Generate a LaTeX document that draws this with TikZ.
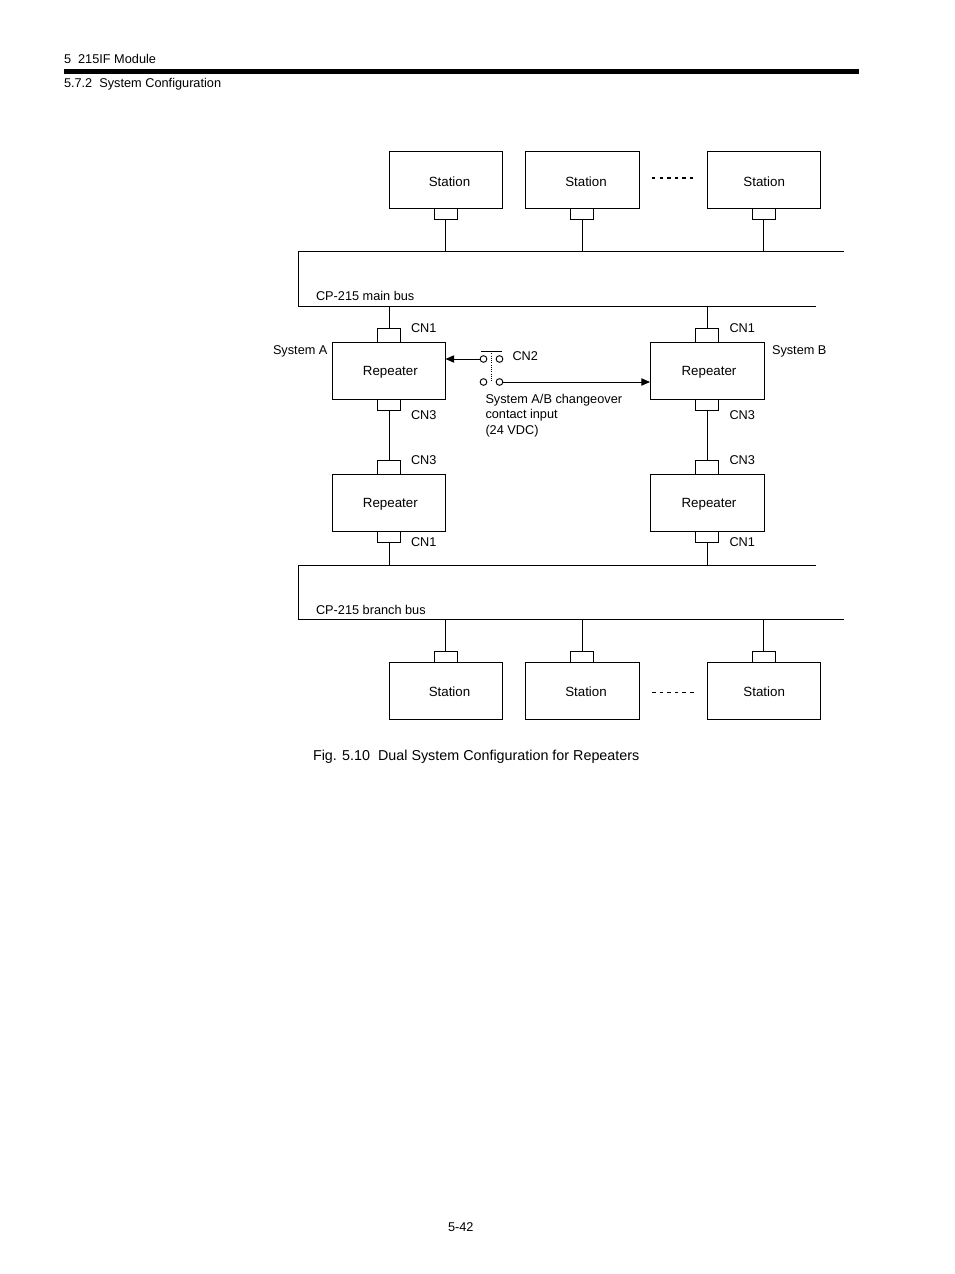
\documentclass[tikz,border=0pt]{standalone}
\usepackage{fontspec}
\setmainfont{Liberation Sans}
\usepackage{tikz}
\usetikzlibrary{positioning,arrows.meta}

\tikzset{
  boxnode/.style={draw, inner sep=0pt, outer sep=0pt, minimum width=84.75pt, minimum height=42.75pt, text height=9.8pt, text depth=0pt},
  lownode/.style={boxnode, text height=8.6pt},
  repnode/.style={boxnode, text height=7pt},
  tabnode/.style={draw, inner sep=0pt, outer sep=0pt, minimum width=17.25pt, minimum height=#1},
  txt/.style={inner sep=0pt, outer sep=0pt, anchor=base west, font=\fontsize{9.55}{11.6}\selectfont},
  contact/.style={draw, circle, inner sep=0pt, outer sep=0pt, minimum size=5pt},
  arrowline/.style={-{Triangle[length=6.5pt,width=5.5pt]}}
}

\begin{document}
\begin{tikzpicture}[x=.75pt, y=-.75pt, line width=.7pt]
          \useasboundingbox (0,0) rectangle (954,1274);

          % page header
          \node[txt] (h1) at (64,63) {5\ \ 215IF Module};
          \node[txt] (h2) at (64,87) {5.7.2\ \ System Configuration};
          \coordinate (ha) at (64,71.5);
          \coordinate (hb) at (859,71.5);
          \draw [line width=3.8pt] (ha) -- (hb);

          % upper stations
          \node[boxnode] (s1) at (445.5,180) {\hspace*{6pt}Station};
          \node[boxnode, minimum width=85.5pt, right = 17.25pt of s1] (s2) {\hspace*{6pt}Station};
          \node[boxnode, right = 51pt of s2] (s3) {\hspace*{1pt}Station};
          \node[tabnode=8.25pt, below = 0pt of s1] (t1) {};
          \node[tabnode=8.25pt, below = 0pt of s2] (t2) {};
          \node[tabnode=8.25pt, below = 0pt of s3] (t3) {};

          % main bus
          \coordinate (ma) at (298,251);
          \coordinate (mb) at (844,251);
          \coordinate (mc) at (298,306);
          \coordinate (md) at (816,306);
          \draw [-] (mb) -- (ma) -- (mc) -- (md);
          \node[txt] (mainbus) at (316,300) {CP-215 main bus};

          \draw [-] (t1.south) -- (t1.south |- ma);
          \draw [-] (t2.south) -- (t2.south |- ma);
          \draw [-] (t3.south) -- (t3.south |- ma);

          % repeaters
          \node[repnode] (r1) at (389,371) {\hspace*{2pt}Repeater};
          \node[repnode, minimum width=85.5pt] (r2) at (707,371) {\hspace*{3pt}Repeater};
          \node[repnode] (r3) at (389,503) {\hspace*{2pt}Repeater};
          \node[repnode, minimum width=85.5pt] (r4) at (707,503) {\hspace*{3pt}Repeater};
          \node[tabnode=10.5pt, above = 0pt of r1] (a1) {};
          \node[tabnode=10.5pt, above = 0pt of r2] (a2) {};
          \node[tabnode=8.25pt, below = 0pt of r1] (b1) {};
          \node[tabnode=8.25pt, below = 0pt of r2] (b2) {};
          \node[tabnode=10.5pt, above = 0pt of r3] (a3) {};
          \node[tabnode=10.5pt, above = 0pt of r4] (a4) {};
          \node[tabnode=8.25pt, below = 0pt of r3] (b3) {};
          \node[tabnode=8.25pt, below = 0pt of r4] (b4) {};

          \draw [-] (a1.north) -- (a1.north |- mc);
          \draw [-] (a2.north) -- (a2.north |- mc);
          \draw [-] (b1.south) -- (a3.north);
          \draw [-] (b2.south) -- (a4.north);

          \node[txt] (c1) at (411,332) {CN1};
          \node[txt] (c2) at (729.5,332) {CN1};
          \node[txt] (c3) at (411,419) {CN3};
          \node[txt] (c4) at (729.5,419) {CN3};
          \node[txt] (c5) at (411,464) {CN3};
          \node[txt] (c6) at (729.5,464) {CN3};
          \node[txt] (c7) at (411,546) {CN1};
          \node[txt] (c8) at (729.5,546) {CN1};
          \node[txt] (sa) at (273,354) {System A};
          \node[txt] (sb) at (772,354) {System B};

          % changeover contact
          \node[contact] (k1) at (483.5,359) {};
          \node[contact] (k2) at (499.5,359) {};
          \node[contact] (k3) at (483.5,382) {};
          \node[contact] (k4) at (499.5,382) {};
          \coordinate (ka) at (481,351);
          \coordinate (kb) at (502,351);
          \coordinate (kc) at (491.5,351);
          \coordinate (kd) at (491.5,382);
          \draw [-] (ka) -- (kb);
          \draw [densely dotted] (kc) -- (kd);
          \draw [arrowline] (k1) -- (k1 -| r1.east);
          \draw [arrowline] (k4) -- (k4 -| r2.west);
          \node[txt] (c9) at (512.5,360) {CN2};
          \node[txt, align=left, anchor=north west] (chg) at (485.5,394) {System A/B changeover\\contact input\\(24 VDC)};

          % branch bus
          \coordinate (na) at (298,565);
          \coordinate (nb) at (816,565);
          \coordinate (nc) at (298,619);
          \coordinate (nd) at (844,619);
          \draw [-] (nb) -- (na) -- (nc) -- (nd);
          \node[txt] (branchbus) at (316,614) {CP-215 branch bus};
          \draw [-] (b3.south) -- (b3.south |- na);
          \draw [-] (b4.south) -- (b4.south |- na);

          % lower stations
          \node[lownode] (s4) at (445.5,690.5) {\hspace*{6pt}Station};
          \node[lownode, minimum width=85.5pt, right = 17.25pt of s4] (s5) {\hspace*{6pt}Station};
          \node[lownode, right = 51pt of s5] (s6) {\hspace*{1pt}Station};
          \node[tabnode=8.25pt, above = 0pt of s4] (t4) {};
          \node[tabnode=8.25pt, above = 0pt of s5] (t5) {};
          \node[tabnode=8.25pt, above = 0pt of s6] (t6) {};
          \draw [-] (t4.north) -- (t4.north |- nc);
          \draw [-] (t5.north) -- (t5.north |- nc);
          \draw [-] (t6.north) -- (t6.north |- nc);

          % dashes between the stations
          \coordinate (d1) at (652,178);
          \coordinate (d2) at (694,178);
          \coordinate (d3) at (652,692);
          \coordinate (d4) at (694,692);
          \draw [line width=1pt, dash pattern=on 2.5pt off 3.2pt] (d1) -- (d2);
          \draw [line width=.5pt, dash pattern=on 2.7pt off 3pt] (d3) -- (d4);

          \node[txt, font=\fontsize{10.75}{13}\selectfont] (cap) at (313,760) {Fig. 5.10\ \ Dual System Configuration for Repeaters};
          \node[txt] (pg) at (448,1231) {5-42};
        \end{tikzpicture}
\end{document}
